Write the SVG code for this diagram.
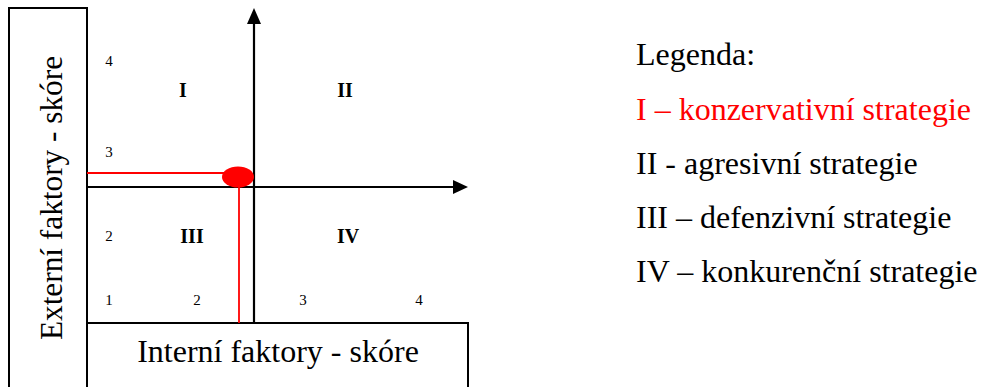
<svg xmlns="http://www.w3.org/2000/svg" width="981" height="387" viewBox="0 0 981 387">
<style>
text{font-family:"Liberation Serif","Times New Roman",serif;fill:#000}
.box{fill:#fff;stroke:#000;stroke-width:2}
.axis{stroke:#000;stroke-width:2.2;fill:none}
.red{stroke:#f00;stroke-width:1.8;fill:none}
.num{font-size:15px;text-anchor:middle}
.q{font-size:20px;font-weight:bold;text-anchor:middle}
.big{font-size:32px}
.leg{font-size:32px}
</style>
<rect width="981" height="387" fill="#fff"/>
<g id="y-label-box">
<rect class="box" x="9" y="8" width="78" height="390"/>
<text class="big" text-anchor="middle" transform="translate(62,198) rotate(-90)" style="font-size:31.3px">Externí faktory - skóre</text>
</g>
<g id="x-label-box">
<rect class="box" x="87" y="323" width="381" height="80"/>
<text class="big" x="278" y="362" text-anchor="middle">Interní faktory - skóre</text>
</g>
<g id="connectors">
<line class="axis" x1="254" y1="323" x2="254" y2="22"/>
<polygon points="247,24 261,24 254,8" fill="#000"/>
<line class="axis" x1="87" y1="187" x2="455" y2="187"/>
<polygon points="453,180 453,194 468,187" fill="#000"/>
<line class="red" x1="87" y1="173" x2="228" y2="173"/>
<line class="red" x1="239" y1="180" x2="239" y2="323"/>
</g>
<g id="point">
<ellipse cx="238" cy="177" rx="16" ry="10.5" fill="#f00"/>
</g>
<g id="scale">
<text class="num" x="109" y="66">4</text>
<text class="num" x="109" y="157">3</text>
<text class="num" x="109" y="241">2</text>
<text class="num" x="109" y="305">1</text>
<text class="num" x="197" y="305">2</text>
<text class="num" x="303" y="305">3</text>
<text class="num" x="419" y="305">4</text>
</g>
<g id="quadrants">
<text class="q" x="183" y="97">I</text>
<text class="q" x="345" y="97">II</text>
<text class="q" x="192" y="243">III</text>
<text class="q" x="348" y="243">IV</text>
</g>
<g id="legend">
<text class="leg" x="636" y="65">Legenda:</text>
<text class="leg" x="636" y="120" style="fill:#f00">I – konzervativní strategie</text>
<text class="leg" x="636" y="174">II - agresivní strategie</text>
<text class="leg" x="636" y="228">III – defenzivní strategie</text>
<text class="leg" x="636" y="282">IV – konkurenční strategie</text>
</g>
</svg>
